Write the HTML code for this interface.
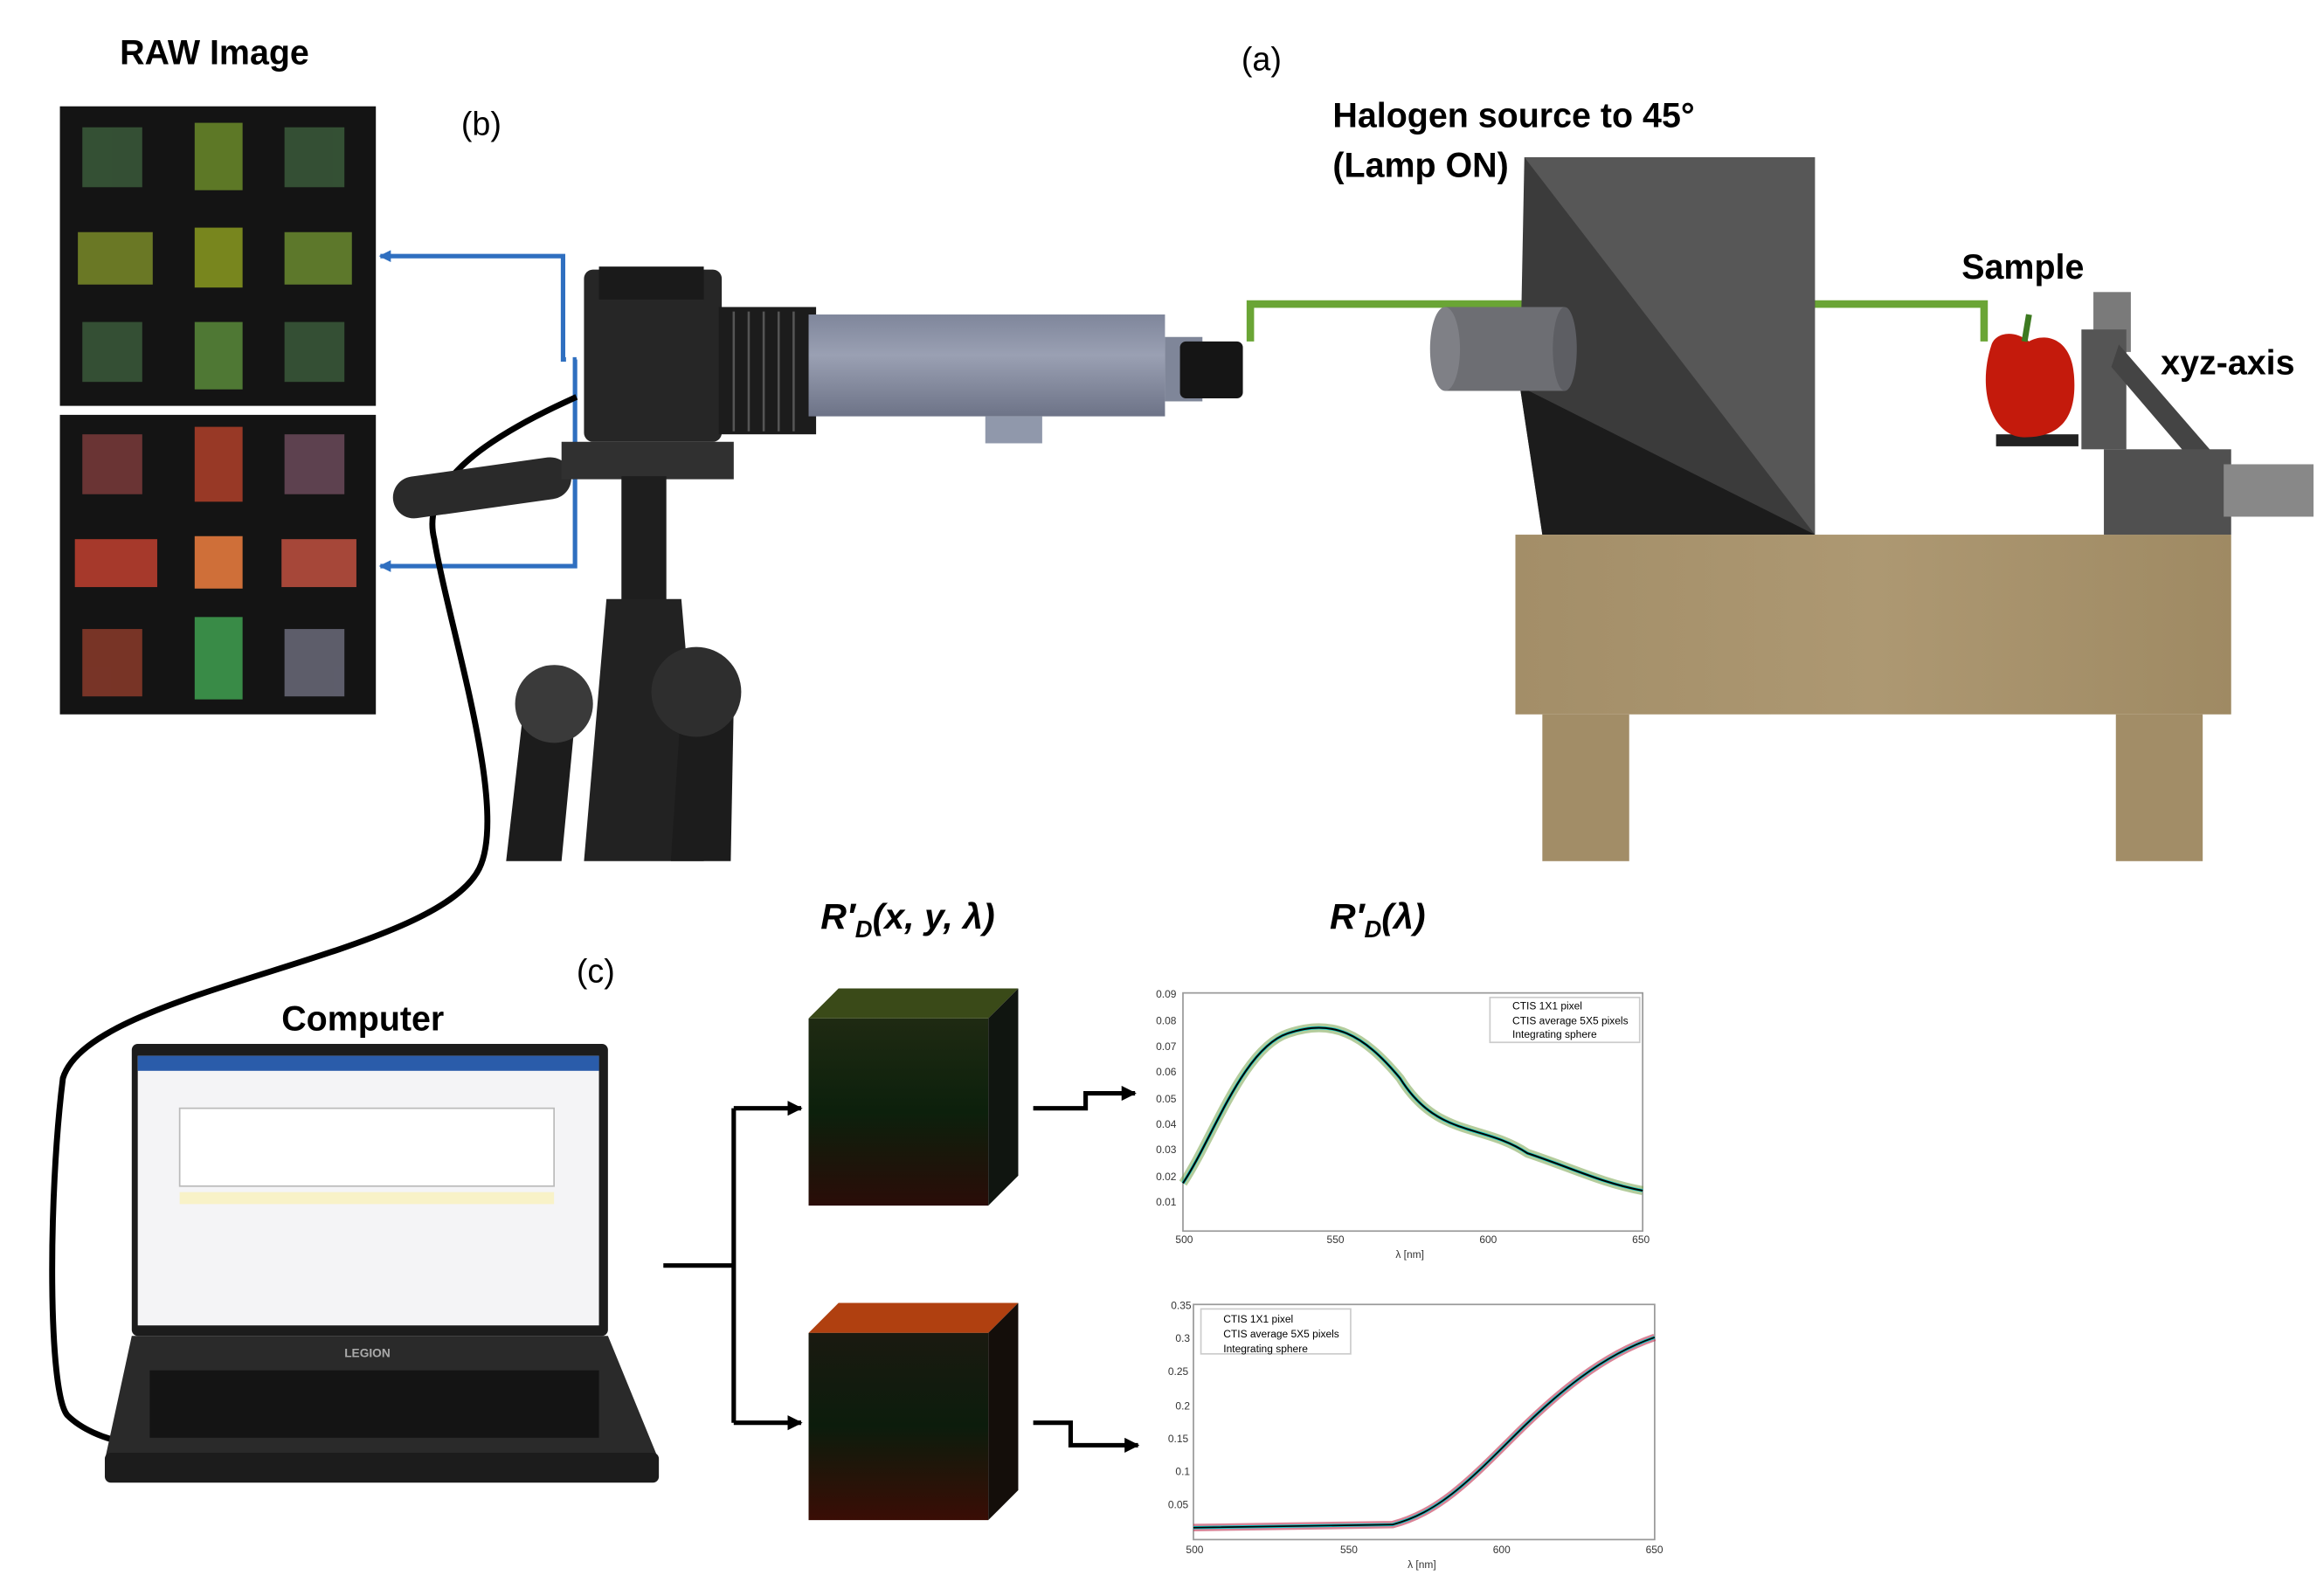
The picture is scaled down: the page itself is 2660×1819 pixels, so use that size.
<!DOCTYPE html>
<html><head><meta charset="utf-8"><style>
html,body{margin:0;padding:0;background:#fff;}
svg{display:block;}
text{font-family:"Liberation Sans",sans-serif;}
</style></head><body>
<svg width="2660" height="1819" viewBox="0 0 1552 1061" preserveAspectRatio="none" xmlns="http://www.w3.org/2000/svg">
<defs>
<marker id="ab" markerWidth="8" markerHeight="8" refX="7" refY="4" orient="auto" markerUnits="userSpaceOnUse"><path d="M0,0 L8,4 L0,8 z" fill="#2f6fc0"/></marker>
<marker id="ak" markerWidth="10" markerHeight="10" refX="9" refY="5" orient="auto" markerUnits="userSpaceOnUse"><path d="M0,0 L10,5 L0,10 z" fill="#000"/></marker>
<linearGradient id="wood" x1="0" x2="1"><stop offset="0" stop-color="#a38e68"/><stop offset="0.5" stop-color="#ad9872"/><stop offset="1" stop-color="#9f8a63"/></linearGradient>
<linearGradient id="tube" x1="0" y1="0" x2="0" y2="1"><stop offset="0" stop-color="#7f869b"/><stop offset="0.4" stop-color="#9aa0b3"/><stop offset="1" stop-color="#6d7387"/></linearGradient>
<linearGradient id="cube1" x1="0" y1="0" x2="0" y2="1"><stop offset="0" stop-color="#1f2a12"/><stop offset="0.5" stop-color="#0c200c"/><stop offset="1" stop-color="#2a0c08"/></linearGradient>
<linearGradient id="cube2" x1="0" y1="0" x2="0" y2="1"><stop offset="0" stop-color="#1a1a10"/><stop offset="0.5" stop-color="#0c1c0c"/><stop offset="1" stop-color="#3a0d05"/></linearGradient>
</defs>

<!-- labels -->
<text x="80" y="43" font-size="23" font-weight="bold">RAW Image</text>
<text x="308" y="90" font-size="22">(b)</text>
<text x="829" y="47" font-size="22">(a)</text>
<text x="890" y="85" font-size="23" font-weight="bold">Halogen source to 45°</text>
<text x="890" y="118" font-size="23" font-weight="bold">(Lamp ON)</text>
<text x="1055" y="164" font-size="23" font-weight="bold">63 cm</text>
<text x="1310" y="186" font-size="23" font-weight="bold">Sample</text>
<text x="1443" y="250" font-size="23" font-weight="bold">xyz-axis</text>
<text x="630" y="250" font-size="23" font-weight="bold">CTIS</text>
<text x="385" y="656" font-size="22">(c)</text>
<text x="188" y="688" font-size="23" font-weight="bold">Computer</text>
<text x="548" y="620" font-size="24" font-weight="bold" font-style="italic" font-family="Liberation Serif">R′<tspan font-size="16" dy="6">D</tspan><tspan dy="-6">(x, y, λ)</tspan></text>
<text x="888" y="620" font-size="24" font-weight="bold" font-style="italic" font-family="Liberation Serif">R′<tspan font-size="16" dy="6">D</tspan><tspan dy="-6">(λ)</tspan></text>

<!-- RAW images -->
<rect x="40" y="71" width="211" height="200" fill="#141414"/>
<rect x="40" y="277" width="211" height="200" fill="#141414"/>
<g opacity="0.85">
<rect x="130" y="82" width="32" height="45" fill="#6a8a2a"/><rect x="130" y="152" width="32" height="40" fill="#8a9a20"/><rect x="130" y="215" width="32" height="45" fill="#5a8a3a"/>
<rect x="52" y="155" width="50" height="35" fill="#7a8a28"/><rect x="190" y="155" width="45" height="35" fill="#6a8a30"/>
<rect x="55" y="85" width="40" height="40" fill="#3a5a3a"/><rect x="190" y="85" width="40" height="40" fill="#3a5a3a"/>
<rect x="55" y="215" width="40" height="40" fill="#3a5a3a"/><rect x="190" y="215" width="40" height="40" fill="#3a5a3a"/>
<rect x="130" y="285" width="32" height="50" fill="#b0402a"/><rect x="130" y="358" width="32" height="35" fill="#f08040"/><rect x="130" y="412" width="32" height="55" fill="#40a050"/>
<rect x="50" y="360" width="55" height="32" fill="#c04030"/><rect x="188" y="360" width="50" height="32" fill="#c05040"/>
<rect x="55" y="290" width="40" height="40" fill="#7a3a3a"/><rect x="190" y="290" width="40" height="40" fill="#6a4a5a"/>
<rect x="55" y="420" width="40" height="45" fill="#8a3a2a"/><rect x="190" y="420" width="40" height="45" fill="#6a6a7a"/>
</g>

<!-- blue connectors -->
<polyline points="378,240 376,240 376,171 254,171" fill="none" stroke="#2f6fc0" stroke-width="3" marker-end="url(#ab)"/>
<polyline points="385,240 384,240 384,378 254,378" fill="none" stroke="#2f6fc0" stroke-width="3" marker-end="url(#ab)"/>

<!-- cable -->
<path d="M385,265 C330,290 280,320 290,360 C300,420 340,540 320,580 C290,640 60,660 42,720 C32,800 32,930 45,945 C55,955 70,960 78,962" fill="none" stroke="#000" stroke-width="4"/>

<!-- tripod -->
<rect x="262" y="312" width="120" height="28" rx="14" fill="#2a2a2a" transform="rotate(-8 320 326)"/>
<rect x="375" y="295" width="115" height="25" fill="#303030"/>
<rect x="415" y="318" width="30" height="130" fill="#1e1e1e"/>
<polygon points="405,400 455,400 470,575 390,575" fill="#222"/>
<polygon points="350,470 385,470 375,575 338,575" fill="#1c1c1c"/>
<polygon points="455,470 490,470 488,575 448,575" fill="#1c1c1c"/>
<circle cx="370" cy="470" r="26" fill="#3a3a3a"/>
<circle cx="465" cy="462" r="30" fill="#2e2e2e"/>

<!-- camera -->
<rect x="390" y="180" width="92" height="115" rx="6" fill="#262626"/>
<rect x="400" y="178" width="70" height="22" fill="#1a1a1a"/>
<rect x="480" y="205" width="65" height="85" fill="#1c1c1c"/>
<g stroke="#555" stroke-width="1.5">
<line x1="490" y1="208" x2="490" y2="288"/><line x1="500" y1="208" x2="500" y2="288"/><line x1="510" y1="208" x2="510" y2="288"/><line x1="520" y1="208" x2="520" y2="288"/><line x1="530" y1="208" x2="530" y2="288"/>
</g>
<rect x="540" y="210" width="238" height="68" fill="url(#tube)"/>
<rect x="658" y="278" width="38" height="18" fill="#9098ab"/>
<rect x="778" y="225" width="25" height="43" fill="#7f8699"/>
<rect x="788" y="228" width="42" height="38" rx="4" fill="#151515"/>

<!-- green bracket -->
<polyline points="835,228 835,203 1325,203 1325,228" fill="none" stroke="#6aa535" stroke-width="5"/>
<line x1="1078" y1="203" x2="1078" y2="178" stroke="#6aa535" stroke-width="5"/>

<!-- lamp -->
<polygon points="1018,105 1212,105 1212,357 1030,357 1015,258" fill="#3b3b3b"/>
<polygon points="1018,105 1212,105 1212,357" fill="#575757"/>
<polygon points="1015,258 1030,357 1212,357" fill="#1c1c1c"/>
<rect x="965" y="205" width="80" height="56" fill="#6d6e73"/>
<ellipse cx="965" cy="233" rx="10" ry="28" fill="#7f8086"/>
<ellipse cx="1045" cy="233" rx="8" ry="28" fill="#5d5e63"/>

<!-- table -->
<rect x="1012" y="357" width="478" height="120" fill="url(#wood)"/>
<rect x="1030" y="477" width="58" height="98" fill="#a28d67"/>
<rect x="1413" y="477" width="58" height="98" fill="#a28d67"/>

<!-- pepper & stage -->
<rect x="1333" y="290" width="55" height="8" fill="#222"/>
<path d="M1330,230 C1320,260 1330,292 1352,292 C1370,292 1388,285 1385,250 C1383,225 1365,222 1355,228 C1345,220 1333,222 1330,230 z" fill="#c41a0c"/>
<path d="M1352,228 L1355,210" stroke="#3d7a20" stroke-width="4"/>
<rect x="1398" y="195" width="25" height="40" fill="#7a7a7a"/>
<rect x="1390" y="220" width="30" height="80" fill="#555"/>
<polygon points="1415,230 1480,305 1470,315 1410,245" fill="#444"/>
<rect x="1405" y="300" width="85" height="57" fill="#505050"/>
<rect x="1485" y="310" width="60" height="35" fill="#888"/>

<!-- laptop -->
<rect x="88" y="697" width="318" height="195" rx="4" fill="#1c1c1c"/>
<rect x="92" y="705" width="308" height="180" fill="#f4f4f6"/>
<rect x="92" y="705" width="308" height="10" fill="#2a5caa"/>
<rect x="120" y="740" width="250" height="52" fill="#fff" stroke="#bbb"/>
<rect x="120" y="796" width="250" height="8" fill="#f8f2c8"/>
<polygon points="88,892 406,892 440,975 70,975" fill="#2a2a2a"/>
<rect x="70" y="970" width="370" height="20" rx="4" fill="#1c1c1c"/>
<rect x="100" y="915" width="300" height="45" fill="#141414"/>
<text x="230" y="906" font-size="8" fill="#aaa" font-weight="bold">LEGION</text>

<!-- connectors to cubes -->
<line x1="443" y1="845" x2="490" y2="845" stroke="#000" stroke-width="3"/>
<line x1="490" y1="740" x2="490" y2="950" stroke="#000" stroke-width="3"/>
<line x1="490" y1="740" x2="535" y2="740" stroke="#000" stroke-width="3" marker-end="url(#ak)"/>
<line x1="490" y1="950" x2="535" y2="950" stroke="#000" stroke-width="3" marker-end="url(#ak)"/>

<!-- cubes -->
<polygon points="540,680 560,660 680,660 660,680" fill="#3a4a18"/>
<rect x="540" y="680" width="120" height="125" fill="url(#cube1)"/>
<polygon points="660,680 680,660 680,785 660,805" fill="#101510"/>
<polygon points="540,890 560,870 680,870 660,890" fill="#b04010"/>
<rect x="540" y="890" width="120" height="125" fill="url(#cube2)"/>
<polygon points="660,890 680,870 680,995 660,1015" fill="#140e0a"/>

<!-- step arrows -->
<polyline points="690,740 725,740 725,730 758,730" fill="none" stroke="#000" stroke-width="3" marker-end="url(#ak)"/>
<polyline points="690,950 715,950 715,965 760,965" fill="none" stroke="#000" stroke-width="3" marker-end="url(#ak)"/>

<!-- plot 1 -->
<rect x="790" y="663" width="307" height="159" fill="#fff" stroke="#999"/>
<path d="M790,790 C810,760 830,700 860,690 C890,680 910,690 935,720 C960,760 990,750 1020,770 C1050,780 1070,790 1097,795" fill="none" stroke="#6a9a3a" stroke-width="6" opacity="0.5"/>
<path d="M790,790 C810,760 830,700 860,690 C890,680 910,690 935,720 C960,760 990,750 1020,770 C1050,780 1070,790 1097,795" fill="none" stroke="#00c8c8" stroke-width="2"/>
<path d="M790,790 C810,760 830,700 860,690 C890,680 910,690 935,720 C960,760 990,750 1020,770 C1050,780 1070,790 1097,795" fill="none" stroke="#000" stroke-width="1.2"/>
<rect x="995" y="666" width="100" height="30" fill="#fff" stroke="#ccc"/>
<text x="1010" y="674" font-size="7">CTIS 1X1 pixel</text>
<text x="1010" y="684" font-size="7">CTIS average 5X5 pixels</text>
<text x="1010" y="693" font-size="7">Integrating sphere</text>
<g font-size="7" fill="#333">
<text x="772" y="666">0.09</text><text x="772" y="684">0.08</text><text x="772" y="701">0.07</text><text x="772" y="718">0.06</text><text x="772" y="736">0.05</text><text x="772" y="753">0.04</text><text x="772" y="770">0.03</text><text x="772" y="788">0.02</text><text x="772" y="805">0.01</text>
<text x="785" y="830">500</text><text x="886" y="830">550</text><text x="988" y="830">600</text><text x="1090" y="830">650</text>
<text x="932" y="840">λ [nm]</text>
</g>

<!-- plot 2 -->
<rect x="797" y="871" width="308" height="157" fill="#fff" stroke="#999"/>
<path d="M797,1020 L930,1018 C960,1010 980,990 1010,960 C1040,930 1070,905 1105,893" fill="none" stroke="#c03050" stroke-width="5" opacity="0.6"/>
<path d="M797,1020 L930,1018 C960,1010 980,990 1010,960 C1040,930 1070,905 1105,893" fill="none" stroke="#00c8c8" stroke-width="2"/>
<path d="M797,1020 L930,1018 C960,1010 980,990 1010,960 C1040,930 1070,905 1105,893" fill="none" stroke="#000" stroke-width="1"/>
<rect x="802" y="874" width="100" height="30" fill="#fff" stroke="#ccc"/>
<text x="817" y="883" font-size="7">CTIS 1X1 pixel</text>
<text x="817" y="893" font-size="7">CTIS average 5X5 pixels</text>
<text x="817" y="903" font-size="7">Integrating sphere</text>
<g font-size="7" fill="#333">
<text x="782" y="874">0.35</text><text x="785" y="896">0.3</text><text x="780" y="918">0.25</text><text x="785" y="941">0.2</text><text x="780" y="963">0.15</text><text x="785" y="985">0.1</text><text x="780" y="1007">0.05</text>
<text x="792" y="1037">500</text><text x="895" y="1037">550</text><text x="997" y="1037">600</text><text x="1099" y="1037">650</text>
<text x="940" y="1047">λ [nm]</text>
</g>
</svg>
</body></html>
